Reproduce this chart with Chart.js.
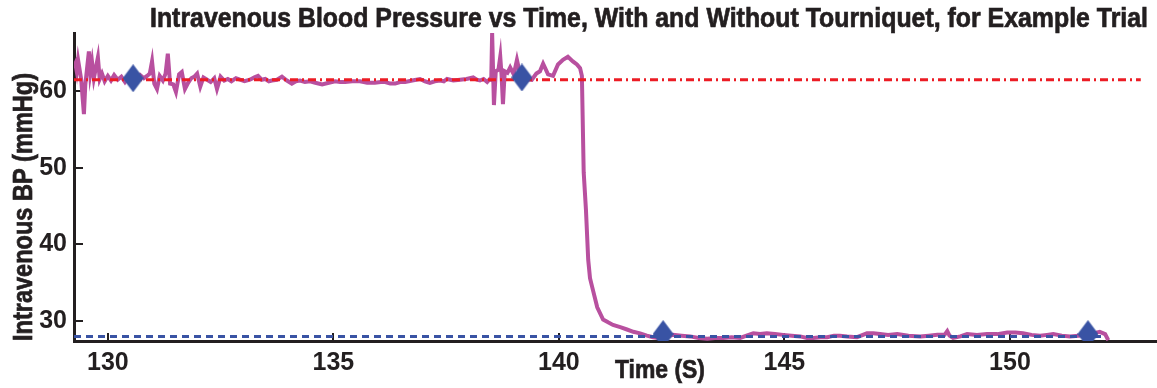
<!DOCTYPE html>
<html>
<head>
    <title>Intravenous Blood Pressure vs Time</title>
    <script src="https://cdn.jsdelivr.net/npm/chart.js"></script>
    <style>
        body { margin: 0; background: #fff; }
    </style>
</head>
<body>
    <canvas id="bpChart" width="1157" height="388"></canvas>

    <script>
        // trace (time in s, pressure in mmHg)
        const timeS = [
            129.25, 129.28, 129.31, 129.34, 129.37, 129.41, 129.45, 129.47, 129.50, 129.54,
            129.58, 129.61, 129.65, 129.69, 129.73, 129.78, 129.82, 129.87, 129.93, 130.00,
            130.07, 130.14, 130.22, 130.30, 130.38, 130.46, 130.56, 130.64, 130.72, 130.80,
            130.87, 130.93, 130.98, 131.03, 131.09, 131.15, 131.22, 131.28, 131.33, 131.38,
            131.45, 131.51, 131.58, 131.64, 131.71, 131.78, 131.85, 131.92, 131.98, 132.05,
            132.12, 132.20, 132.28, 132.36, 132.42, 132.50, 132.58, 132.66, 132.74, 132.84,
            132.93, 133.03, 133.15, 133.25, 133.33, 133.41, 133.49, 133.57, 133.64, 133.75,
            133.86, 133.97, 134.08, 134.17, 134.26, 134.37, 134.48, 134.60, 134.75, 134.90,
            135.04, 135.15, 135.26, 135.42, 135.59, 135.75, 135.92, 136.05, 136.15, 136.26,
            136.37, 136.48, 136.59, 136.75, 136.92, 137.03, 137.14, 137.25, 137.37, 137.45,
            137.52, 137.66, 137.81, 137.95, 138.10, 138.18, 138.25, 138.33, 138.41, 138.47,
            138.50, 138.52, 138.56, 138.60, 138.66, 138.70, 138.73, 138.76, 138.80, 138.86,
            138.92, 139.00, 139.07, 139.13, 139.18, 139.30, 139.40, 139.50, 139.58, 139.65,
            139.76, 139.87, 139.98, 140.09, 140.20, 140.31, 140.40, 140.47, 140.51, 140.55,
            140.60, 140.65, 140.69, 140.74, 140.85, 140.98, 141.10, 141.20, 141.36, 141.51,
            141.65, 141.80, 141.95, 142.09, 142.20, 142.31, 142.42, 142.53, 142.72, 142.91,
            143.10, 143.29, 143.46, 143.64, 143.83, 144.02, 144.16, 144.31, 144.46, 144.61,
            144.79, 144.97, 145.16, 145.35, 145.50, 145.64, 145.80, 145.95, 146.10, 146.23,
            146.39, 146.61, 146.83, 146.97, 147.12, 147.30, 147.50, 147.75, 148.01, 148.20,
            148.39, 148.55, 148.61, 148.66, 148.74, 148.90, 149.05, 149.27, 149.49, 149.72,
            149.94, 150.12, 150.29, 150.48, 150.67, 150.82, 150.96, 151.15, 151.33, 151.52,
            151.71, 151.85, 151.99, 152.11, 152.18
        ];
        const bpMmHg = [
            63.2, 63.6, 62.6, 64.1, 63.0, 61.5, 58.5, 57.0, 60.8, 63.0,
            65.2, 62.3, 63.8, 61.7, 62.9, 64.4, 61.6, 62.3, 61.3, 62.0,
            61.4, 62.1, 61.5, 61.9, 61.2, 61.9, 61.7, 61.4, 62.1, 61.7,
            62.0, 62.3, 63.9, 61.0, 60.3, 62.0, 61.4, 62.3, 64.9, 61.0,
            60.9, 59.9, 62.2, 62.5, 60.3, 61.1, 61.7, 61.9, 62.3, 60.6,
            61.8, 61.5, 61.2, 61.7, 60.3, 61.9, 61.4, 61.6, 61.3, 61.7,
            61.5, 61.3, 61.5, 61.8, 62.0, 61.5, 61.6, 61.3, 61.4, 61.5,
            61.9, 61.4, 61.0, 61.3, 61.4, 61.2, 61.3, 61.1, 60.9, 61.1,
            61.3, 61.2, 61.2, 61.3, 61.3, 61.1, 61.1, 61.2, 61.2, 61.0,
            61.0, 61.2, 61.2, 61.4, 61.6, 61.3, 61.1, 61.3, 61.4, 61.3,
            61.6, 61.4, 61.5, 61.6, 61.8, 61.5, 61.4, 61.6, 61.2, 61.6,
            61.5, 67.6, 58.2, 62.6, 62.8, 64.5, 62.0, 58.3, 62.6, 62.4,
            63.1, 62.2, 64.1, 62.5, 61.9, 61.6, 61.5, 62.3, 62.6, 63.6,
            62.2, 62.0, 63.5, 64.1, 64.5, 63.9, 63.5, 63.0, 62.0, 49.4,
            44.5, 38.0, 35.6, 34.4, 31.8, 30.2, 29.8, 29.5, 29.2, 28.9,
            28.6, 28.4, 28.1, 27.9, 27.8, 27.9, 28.0, 28.2, 28.1, 28.0,
            27.8, 27.7, 27.8, 27.8, 27.9, 27.8, 28.1, 28.4, 28.3, 28.4,
            28.3, 28.2, 28.1, 28.0, 27.8, 27.8, 27.9, 27.9, 28.1, 28.1,
            28.0, 27.9, 28.4, 28.4, 28.3, 28.2, 28.3, 28.1, 28.0, 28.1,
            28.2, 28.2, 28.7, 28.1, 27.8, 28.0, 28.3, 28.2, 28.3, 28.3,
            28.5, 28.5, 28.4, 28.2, 28.1, 28.2, 28.3, 28.1, 28.0, 28.1,
            28.2, 28.4, 28.6, 28.3, 27.5
        ];

        // diamond markers
        const markerTimes = [130.56, 139.18, 142.31, 151.73];
        const markerBp = [61.7, 61.8, 28.3, 28.3];

        // mean levels with and without tourniquet
        const highLevelTimes = [129.25, 152.9];
        const highLevel = 61.5;
        const lowLevelTimes = [129.25, 152.1];
        const lowLevel = 28.0;

        const xRange = [129.25, 153.26];
        const yRange = [27.4, 67.6];
        const xStep = 5;
        const yStep = 10;

        const chartTitle = 'Intravenous Blood Pressure vs Time, With and Without Tourniquet, for Example Trial';
        const xTitle = 'Time (S)';
        const yTitle = 'Intravenous BP (mmHg)';

        const ink = '#231f20';
        const tickFont = { family: '"Liberation Sans", Arial, sans-serif', weight: 'bold', size: 25 };

        // taller-than-wide diamond for the markers
        function makeDiamond(w, h, color) {
            const c = document.createElement('canvas');
            c.width = w;
            c.height = h;
            const g = c.getContext('2d');
            g.fillStyle = color;
            g.beginPath();
            g.moveTo(w / 2, 0);
            g.lineTo(w, h / 2);
            g.lineTo(w / 2, h);
            g.lineTo(0, h / 2);
            g.closePath();
            g.fill();
            return c;
        }

        // squeeze text to a given width, like the condensed heavy type in the original
        function fitText(ctx, text, x, y, width, font, angle) {
            ctx.save();
            ctx.font = font;
            const w = ctx.measureText(text).width;
            ctx.translate(x, y);
            ctx.rotate(angle);
            ctx.scale(width / w, 1);
            ctx.textAlign = 'center';
            ctx.textBaseline = 'alphabetic';
            ctx.fillStyle = ink;
            ctx.strokeStyle = ink;
            ctx.lineWidth = 0.7;
            ctx.fillText(text, 0, 0);
            ctx.strokeText(text, 0, 0);
            ctx.restore();
        }

        const titlesPlugin = {
            id: 'titles',
            afterDraw(chart) {
                const ctx = chart.ctx;
                fitText(ctx, chartTitle, 649, 27, 998, 'bold 27px "Liberation Sans", Arial', 0);
                fitText(ctx, xTitle, 660, 378, 90, 'bold 26px "Liberation Sans", Arial', 0);
                fitText(ctx, yTitle, 32, 207, 268, 'bold 27px "Liberation Sans", Arial', -Math.PI / 2);
            }
        };

        const trace = timeS.map((t, i) => ({ x: t, y: bpMmHg[i] }));
        const markers = markerTimes.map((t, i) => ({ x: t, y: markerBp[i] }));
        const highLine = highLevelTimes.map(t => ({ x: t, y: highLevel }));
        const lowLine = lowLevelTimes.map(t => ({ x: t, y: lowLevel }));

        new Chart(document.getElementById('bpChart'), {
            type: 'line',
            data: {
                datasets: [
                    {
                        label: 'markers',
                        data: markers,
                        showLine: false,
                        pointStyle: makeDiamond(21, 28, '#3953a4'),
                        pointRadius: 14
                    },
                    {
                        label: 'with tourniquet mean',
                        data: highLine,
                        borderColor: '#ec1c24',
                        borderWidth: 3,
                        borderDash: [8, 4, 2, 4],
                        pointRadius: 0
                    },
                    {
                        label: 'without tourniquet mean',
                        data: lowLine,
                        borderColor: '#3953a4',
                        borderWidth: 3,
                        borderDash: [7, 5],
                        pointRadius: 0
                    },
                    {
                        label: 'BP',
                        data: trace,
                        borderColor: '#b8509f',
                        borderWidth: 4,
                        pointRadius: 0,
                        tension: 0
                    }
                ]
            },
            options: {
                responsive: false,
                animation: false,
                devicePixelRatio: 1,
                layout: {
                    autoPadding: false,
                    padding: { top: 33, left: 0, right: 0, bottom: 0 }
                },
                plugins: {
                    legend: { display: false },
                    tooltip: { enabled: false }
                },
                scales: {
                    x: {
                        type: 'linear',
                        min: xRange[0],
                        max: xRange[1],
                        afterFit(scale) {
                            scale.height = 47;
                            scale.paddingLeft = 0;
                            scale.paddingRight = 0;
                        },
                        border: { display: true, color: ink, width: 3 },
                        grid: { drawOnChartArea: false, drawTicks: true, tickLength: -8, color: ink, lineWidth: 2 },
                        ticks: {
                            stepSize: xStep,
                            includeBounds: false,
                            padding: 15,
                            maxRotation: 0,
                            autoSkip: false,
                            color: ink,
                            font: tickFont
                        }
                    },
                    y: {
                        min: yRange[0],
                        max: yRange[1],
                        afterFit(scale) {
                            scale.width = 74;
                            scale.paddingTop = 0;
                            scale.paddingBottom = 0;
                        },
                        border: { display: true, color: ink, width: 3 },
                        grid: { drawOnChartArea: false, drawTicks: true, tickLength: -9, color: ink, lineWidth: 2 },
                        ticks: {
                            stepSize: yStep,
                            includeBounds: false,
                            padding: 16,
                            color: ink,
                            font: tickFont
                        }
                    }
                }
            },
            plugins: [titlesPlugin]
        });
    </script>
</body>
</html>
